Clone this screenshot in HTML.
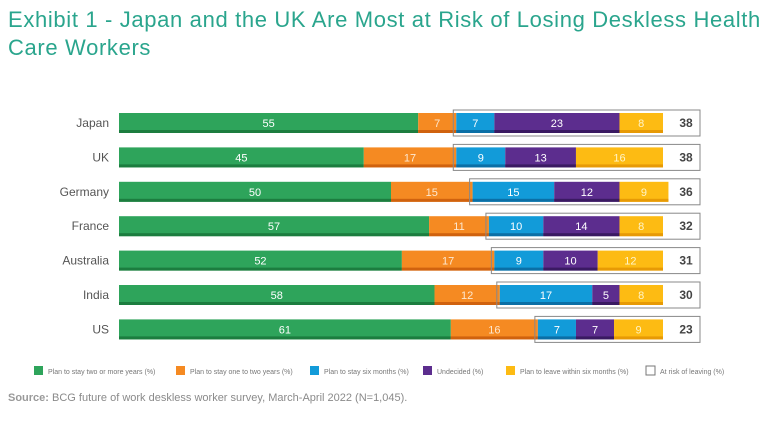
<!DOCTYPE html>
<html><head><meta charset="utf-8"><style>
body{margin:0;background:#fff;font-family:"Liberation Sans",sans-serif;}
#wrap{position:relative;width:768px;height:439px;overflow:hidden}
.title{position:absolute;left:8px;top:6px;font-size:22px;line-height:28px;color:#2aa58d;letter-spacing:0.65px}
.src{position:absolute;left:8px;top:392px;font-size:11px;color:#8a8a8a}
.src b{font-weight:bold;color:#999}
</style></head><body>
<div id="wrap">
<div class="title">Exhibit 1 - Japan and the UK Are Most at Risk of Losing Deskless Health<br>Care Workers</div>
<svg id="chart" width="768" height="439" style="position:absolute;left:0;top:0"></svg>
<div class="src"><b>Source:</b> BCG future of work deskless worker survey, March-April 2022 (N=1,045).</div>
</div>
<script>
const countries=["Japan","UK","Germany","France","Australia","India","US"];
const stayTwo=[55,45,50,57,52,58,61];
const stayOne=[7,17,15,11,17,12,16];
const staySix=[7,9,15,10,9,17,7];
const undecided=[23,13,12,14,10,5,7];
const leave=[8,16,9,8,12,8,9];
const atRisk=[38,38,36,32,31,30,23];
const seriesNames=["Plan to stay two or more years (%)","Plan to stay one to two years (%)","Plan to stay six months (%)","Undecided (%)","Plan to leave within six months (%)"];

const NS="http://www.w3.org/2000/svg";
const svg=document.getElementById('chart');
const series=[stayTwo,stayOne,staySix,undecided,leave];
const colors=["#2ea45b","#f58a22","#129bd9","#5c2d8e","#fdbb13"];
const dark=["#1c7d3f","#d0620e","#0b6fa6","#3a1a62","#e79a05"];
const txtCol=["#fff","#fde8d0","#fff","#fff","#fff4c8"];
const x0=119, k=5.44;
const xs=v=>x0+v*k;
const ys=i=>113+i*34.4;
const bh=20;
function el(t,a){const e=document.createElementNS(NS,t);for(const n in a)e.setAttribute(n,a[n]);svg.appendChild(e);return e;}
countries.forEach((c,i)=>{
  const y=ys(i);
  const l=el('text',{x:109,y:y+14,'text-anchor':'end','font-size':12,fill:'#555'});
  l.textContent=c;
  
  
  let cum=0;
  series.forEach((s,j)=>{
    const v=s[i];
    const r=el('rect',{x:xs(cum),y:y,width:v*k,height:bh,fill:colors[j]});
    
    
    el('rect',{x:xs(cum),y:y+bh-3,width:v*k,height:3,fill:dark[j]});
    const t=el('text',{x:xs(cum+v/2),y:y+14,'text-anchor':'middle','font-size':11,fill:txtCol[j]});
    t.textContent=v;
    
    
    cum+=v;
  });
  const rs=stayTwo[i]+stayOne[i];
  const b=el('rect',{x:xs(rs)-3,y:y-3,width:700-(xs(rs)-3),height:bh+6,fill:'none',stroke:'#888','stroke-width':1});
  
  
  const rt=el('text',{x:686,y:y+14,'text-anchor':'middle','font-size':12,'font-weight':'bold',fill:'#444'});
  rt.textContent=atRisk[i];
  
  
});
const lx=[34,176,310,423,506,646];
const lnames=seriesNames.concat(["At risk of leaving (%)"]);
lnames.forEach((n,j)=>{
  const sq=el('rect',{x:lx[j],y:366,width:9,height:9,fill:j<5?colors[j]:'#fff',stroke:j<5?'none':'#777'});
  
  
  const t=el('text',{x:lx[j]+14,y:374,'font-size':7,fill:'#777'});
  t.textContent=n;
  
  
});
</script>
</body></html>
